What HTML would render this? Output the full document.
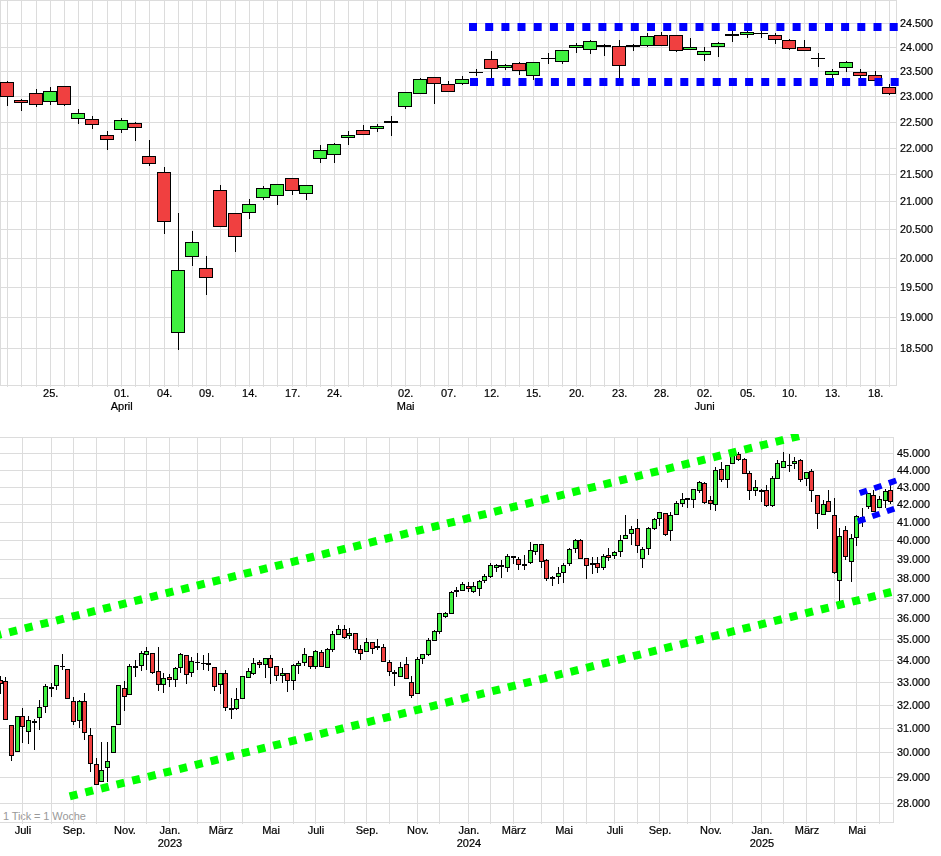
<!DOCTYPE html>
<html><head><meta charset="utf-8"><title>Chart</title>
<style>html,body{margin:0;padding:0;background:#fff;}body{width:941px;height:856px;position:relative;overflow:hidden;font-family:"Liberation Sans",sans-serif;}svg{display:block;will-change:transform;transform:translateZ(0)}</style></head>
<body>
<div style="position:absolute;left:3px;top:809px;font-size:11px;line-height:14px;color:#999;white-space:nowrap;letter-spacing:-0.1px">1 Tick = 1 Woche</div>
<svg width="941" height="856" viewBox="0 0 941 856" style="position:absolute;left:0;top:0">
<defs><clipPath id="c1"><rect x="0" y="0" width="899" height="386"/></clipPath><clipPath id="c2"><rect x="0" y="434" width="898" height="400"/></clipPath></defs>
<g fill="#DCDCDC">
<rect x="0" y="0" width="897" height="1"/>
<rect x="0" y="23" width="897" height="1"/>
<rect x="0" y="47" width="897" height="1"/>
<rect x="0" y="71" width="897" height="1"/>
<rect x="0" y="96" width="897" height="1"/>
<rect x="0" y="122" width="897" height="1"/>
<rect x="0" y="148" width="897" height="1"/>
<rect x="0" y="174" width="897" height="1"/>
<rect x="0" y="201" width="897" height="1"/>
<rect x="0" y="229" width="897" height="1"/>
<rect x="0" y="258" width="897" height="1"/>
<rect x="0" y="287" width="897" height="1"/>
<rect x="0" y="317" width="897" height="1"/>
<rect x="0" y="348" width="897" height="1"/>
<rect x="0" y="385" width="897" height="1"/>
<rect x="0" y="0" width="1" height="386"/>
<rect x="896" y="0" width="1" height="386"/>
<rect x="7" y="0" width="1" height="387"/>
<rect x="21" y="0" width="1" height="387"/>
<rect x="36" y="0" width="1" height="387"/>
<rect x="50" y="0" width="1" height="387"/>
<rect x="64" y="0" width="1" height="387"/>
<rect x="78" y="0" width="1" height="387"/>
<rect x="92" y="0" width="1" height="387"/>
<rect x="107" y="0" width="1" height="387"/>
<rect x="121" y="0" width="1" height="387"/>
<rect x="135" y="0" width="1" height="387"/>
<rect x="149" y="0" width="1" height="387"/>
<rect x="164" y="0" width="1" height="387"/>
<rect x="178" y="0" width="1" height="387"/>
<rect x="192" y="0" width="1" height="387"/>
<rect x="206" y="0" width="1" height="387"/>
<rect x="220" y="0" width="1" height="387"/>
<rect x="235" y="0" width="1" height="387"/>
<rect x="249" y="0" width="1" height="387"/>
<rect x="263" y="0" width="1" height="387"/>
<rect x="277" y="0" width="1" height="387"/>
<rect x="292" y="0" width="1" height="387"/>
<rect x="306" y="0" width="1" height="387"/>
<rect x="320" y="0" width="1" height="387"/>
<rect x="334" y="0" width="1" height="387"/>
<rect x="348" y="0" width="1" height="387"/>
<rect x="363" y="0" width="1" height="387"/>
<rect x="377" y="0" width="1" height="387"/>
<rect x="391" y="0" width="1" height="387"/>
<rect x="405" y="0" width="1" height="387"/>
<rect x="420" y="0" width="1" height="387"/>
<rect x="434" y="0" width="1" height="387"/>
<rect x="448" y="0" width="1" height="387"/>
<rect x="462" y="0" width="1" height="387"/>
<rect x="476" y="0" width="1" height="387"/>
<rect x="491" y="0" width="1" height="387"/>
<rect x="505" y="0" width="1" height="387"/>
<rect x="519" y="0" width="1" height="387"/>
<rect x="533" y="0" width="1" height="387"/>
<rect x="548" y="0" width="1" height="387"/>
<rect x="562" y="0" width="1" height="387"/>
<rect x="576" y="0" width="1" height="387"/>
<rect x="590" y="0" width="1" height="387"/>
<rect x="604" y="0" width="1" height="387"/>
<rect x="619" y="0" width="1" height="387"/>
<rect x="633" y="0" width="1" height="387"/>
<rect x="647" y="0" width="1" height="387"/>
<rect x="661" y="0" width="1" height="387"/>
<rect x="676" y="0" width="1" height="387"/>
<rect x="690" y="0" width="1" height="387"/>
<rect x="704" y="0" width="1" height="387"/>
<rect x="718" y="0" width="1" height="387"/>
<rect x="732" y="0" width="1" height="387"/>
<rect x="747" y="0" width="1" height="387"/>
<rect x="761" y="0" width="1" height="387"/>
<rect x="775" y="0" width="1" height="387"/>
<rect x="789" y="0" width="1" height="387"/>
<rect x="804" y="0" width="1" height="387"/>
<rect x="818" y="0" width="1" height="387"/>
<rect x="832" y="0" width="1" height="387"/>
<rect x="846" y="0" width="1" height="387"/>
<rect x="860" y="0" width="1" height="387"/>
<rect x="875" y="0" width="1" height="387"/>
<rect x="889" y="0" width="1" height="387"/>
</g>
<g>
<rect x="7.0" y="81" width="1" height="25" fill="#000"/><rect x="0.0" y="82" width="14.0" height="15" fill="#000"/><rect x="1.0" y="83" width="12.0" height="13" fill="#F04040"/>
<rect x="21.0" y="99" width="1" height="12" fill="#000"/><rect x="14.0" y="100" width="14.0" height="3" fill="#000"/><rect x="15.0" y="101" width="12.0" height="1" fill="#F04040"/>
<rect x="36.0" y="89" width="1" height="18" fill="#000"/><rect x="29.0" y="93" width="14.0" height="12" fill="#000"/><rect x="30.0" y="94" width="12.0" height="10" fill="#F04040"/>
<rect x="50.0" y="87" width="1" height="18" fill="#000"/><rect x="43.0" y="91" width="14.0" height="11" fill="#000"/><rect x="44.0" y="92" width="12.0" height="9" fill="#40F040"/>
<rect x="64.0" y="86" width="1" height="20" fill="#000"/><rect x="57.0" y="86" width="14.0" height="19" fill="#000"/><rect x="58.0" y="87" width="12.0" height="17" fill="#F04040"/>
<rect x="78.0" y="109" width="1" height="15" fill="#000"/><rect x="71.0" y="113" width="14.0" height="6" fill="#000"/><rect x="72.0" y="114" width="12.0" height="4" fill="#40F040"/>
<rect x="92.0" y="116" width="1" height="13" fill="#000"/><rect x="85.0" y="119" width="14.0" height="6" fill="#000"/><rect x="86.0" y="120" width="12.0" height="4" fill="#F04040"/>
<rect x="107.0" y="131" width="1" height="19" fill="#000"/><rect x="100.0" y="135" width="14.0" height="5" fill="#000"/><rect x="101.0" y="136" width="12.0" height="3" fill="#F04040"/>
<rect x="121.0" y="118" width="1" height="15" fill="#000"/><rect x="114.0" y="120" width="14.0" height="10" fill="#000"/><rect x="115.0" y="121" width="12.0" height="8" fill="#40F040"/>
<rect x="135.0" y="122" width="1" height="19" fill="#000"/><rect x="128.0" y="123" width="14.0" height="5" fill="#000"/><rect x="129.0" y="124" width="12.0" height="3" fill="#F04040"/>
<rect x="149.0" y="140" width="1" height="26" fill="#000"/><rect x="142.0" y="156" width="14.0" height="8" fill="#000"/><rect x="143.0" y="157" width="12.0" height="6" fill="#F04040"/>
<rect x="164.0" y="167" width="1" height="67" fill="#000"/><rect x="157.0" y="172" width="14.0" height="50" fill="#000"/><rect x="158.0" y="173" width="12.0" height="48" fill="#F04040"/>
<rect x="178.0" y="213" width="1" height="137" fill="#000"/><rect x="171.0" y="270" width="14.0" height="63" fill="#000"/><rect x="172.0" y="271" width="12.0" height="61" fill="#40F040"/>
<rect x="192.0" y="231" width="1" height="35" fill="#000"/><rect x="185.0" y="242" width="14.0" height="15" fill="#000"/><rect x="186.0" y="243" width="12.0" height="13" fill="#40F040"/>
<rect x="206.0" y="256" width="1" height="39" fill="#000"/><rect x="199.0" y="268" width="14.0" height="10" fill="#000"/><rect x="200.0" y="269" width="12.0" height="8" fill="#F04040"/>
<rect x="220.0" y="185" width="1" height="42" fill="#000"/><rect x="213.0" y="190" width="14.0" height="37" fill="#000"/><rect x="214.0" y="191" width="12.0" height="35" fill="#F04040"/>
<rect x="235.0" y="213" width="1" height="39" fill="#000"/><rect x="228.0" y="213" width="14.0" height="24" fill="#000"/><rect x="229.0" y="214" width="12.0" height="22" fill="#F04040"/>
<rect x="249.0" y="199" width="1" height="20" fill="#000"/><rect x="242.0" y="204" width="14.0" height="9" fill="#000"/><rect x="243.0" y="205" width="12.0" height="7" fill="#40F040"/>
<rect x="263.0" y="186" width="1" height="14" fill="#000"/><rect x="256.0" y="188" width="14.0" height="10" fill="#000"/><rect x="257.0" y="189" width="12.0" height="8" fill="#40F040"/>
<rect x="277.0" y="184" width="1" height="21" fill="#000"/><rect x="270.0" y="184" width="14.0" height="12" fill="#000"/><rect x="271.0" y="185" width="12.0" height="10" fill="#40F040"/>
<rect x="292.0" y="178" width="1" height="17" fill="#000"/><rect x="285.0" y="178" width="14.0" height="13" fill="#000"/><rect x="286.0" y="179" width="12.0" height="11" fill="#F04040"/>
<rect x="306.0" y="185" width="1" height="15" fill="#000"/><rect x="299.0" y="185" width="14.0" height="9" fill="#000"/><rect x="300.0" y="186" width="12.0" height="7" fill="#40F040"/>
<rect x="320.0" y="145" width="1" height="18" fill="#000"/><rect x="313.0" y="150" width="14.0" height="9" fill="#000"/><rect x="314.0" y="151" width="12.0" height="7" fill="#40F040"/>
<rect x="334.0" y="143" width="1" height="20" fill="#000"/><rect x="327.0" y="144" width="14.0" height="11" fill="#000"/><rect x="328.0" y="145" width="12.0" height="9" fill="#40F040"/>
<rect x="348.0" y="131" width="1" height="14" fill="#000"/><rect x="341.0" y="135" width="14.0" height="3" fill="#000"/><rect x="342.0" y="136" width="12.0" height="1" fill="#40F040"/>
<rect x="363.0" y="125" width="1" height="10" fill="#000"/><rect x="356.0" y="130" width="14.0" height="5" fill="#000"/><rect x="357.0" y="131" width="12.0" height="3" fill="#F04040"/>
<rect x="377.0" y="124" width="1" height="8" fill="#000"/><rect x="370.0" y="126" width="14.0" height="3" fill="#000"/><rect x="371.0" y="127" width="12.0" height="1" fill="#40F040"/>
<rect x="391.0" y="116" width="1" height="20" fill="#000"/><rect x="384.0" y="121" width="14.0" height="2" fill="#000"/>
<rect x="405.0" y="92" width="1" height="17" fill="#000"/><rect x="398.0" y="92" width="14.0" height="15" fill="#000"/><rect x="399.0" y="93" width="12.0" height="13" fill="#40F040"/>
<rect x="420.0" y="78" width="1" height="16" fill="#000"/><rect x="413.0" y="79" width="14.0" height="15" fill="#000"/><rect x="414.0" y="80" width="12.0" height="13" fill="#40F040"/>
<rect x="434.0" y="77" width="1" height="27" fill="#000"/><rect x="427.0" y="77" width="14.0" height="7" fill="#000"/><rect x="428.0" y="78" width="12.0" height="5" fill="#F04040"/>
<rect x="448.0" y="81" width="1" height="11" fill="#000"/><rect x="441.0" y="84" width="14.0" height="8" fill="#000"/><rect x="442.0" y="85" width="12.0" height="6" fill="#F04040"/>
<rect x="462.0" y="76" width="1" height="9" fill="#000"/><rect x="455.0" y="79" width="14.0" height="5" fill="#000"/><rect x="456.0" y="80" width="12.0" height="3" fill="#40F040"/>
<rect x="476.0" y="69" width="1" height="7" fill="#000"/><rect x="469.0" y="72" width="14.0" height="1" fill="#000"/>
<rect x="491.0" y="51" width="1" height="27" fill="#000"/><rect x="484.0" y="59" width="14.0" height="10" fill="#000"/><rect x="485.0" y="60" width="12.0" height="8" fill="#F04040"/>
<rect x="505.0" y="64" width="1" height="6" fill="#000"/><rect x="498.0" y="65" width="14.0" height="3" fill="#000"/><rect x="499.0" y="66" width="12.0" height="1" fill="#40F040"/>
<rect x="519.0" y="62" width="1" height="13" fill="#000"/><rect x="512.0" y="63" width="14.0" height="8" fill="#000"/><rect x="513.0" y="64" width="12.0" height="6" fill="#F04040"/>
<rect x="533.0" y="62" width="1" height="18" fill="#000"/><rect x="526.0" y="62" width="14.0" height="14" fill="#000"/><rect x="527.0" y="63" width="12.0" height="12" fill="#40F040"/>
<rect x="548.0" y="53" width="1" height="11" fill="#000"/><rect x="541.0" y="58" width="14.0" height="1" fill="#000"/>
<rect x="562.0" y="50" width="1" height="14" fill="#000"/><rect x="555.0" y="50" width="14.0" height="12" fill="#000"/><rect x="556.0" y="51" width="12.0" height="10" fill="#40F040"/>
<rect x="576.0" y="43" width="1" height="10" fill="#000"/><rect x="569.0" y="45" width="14.0" height="3" fill="#000"/><rect x="570.0" y="46" width="12.0" height="1" fill="#40F040"/>
<rect x="590.0" y="40" width="1" height="14" fill="#000"/><rect x="583.0" y="41" width="14.0" height="9" fill="#000"/><rect x="584.0" y="42" width="12.0" height="7" fill="#40F040"/>
<rect x="604.0" y="44" width="1" height="12" fill="#000"/><rect x="597.0" y="45" width="14.0" height="2" fill="#000"/>
<rect x="619.0" y="40" width="1" height="38" fill="#000"/><rect x="612.0" y="46" width="14.0" height="20" fill="#000"/><rect x="613.0" y="47" width="12.0" height="18" fill="#F04040"/>
<rect x="633.0" y="44" width="1" height="7" fill="#000"/><rect x="626.0" y="45" width="14.0" height="2" fill="#000"/>
<rect x="647.0" y="33" width="1" height="14" fill="#000"/><rect x="640.0" y="36" width="14.0" height="10" fill="#000"/><rect x="641.0" y="37" width="12.0" height="8" fill="#40F040"/>
<rect x="661.0" y="32" width="1" height="14" fill="#000"/><rect x="654.0" y="35" width="14.0" height="11" fill="#000"/><rect x="655.0" y="36" width="12.0" height="9" fill="#F04040"/>
<rect x="676.0" y="35" width="1" height="17" fill="#000"/><rect x="669.0" y="35" width="14.0" height="16" fill="#000"/><rect x="670.0" y="36" width="12.0" height="14" fill="#F04040"/>
<rect x="690.0" y="38" width="1" height="12" fill="#000"/><rect x="683.0" y="47" width="14.0" height="3" fill="#000"/><rect x="684.0" y="48" width="12.0" height="1" fill="#40F040"/>
<rect x="704.0" y="47" width="1" height="14" fill="#000"/><rect x="697.0" y="51" width="14.0" height="4" fill="#000"/><rect x="698.0" y="52" width="12.0" height="2" fill="#40F040"/>
<rect x="718.0" y="42" width="1" height="15" fill="#000"/><rect x="711.0" y="43" width="14.0" height="4" fill="#000"/><rect x="712.0" y="44" width="12.0" height="2" fill="#40F040"/>
<rect x="732.0" y="31" width="1" height="11" fill="#000"/><rect x="725.0" y="34" width="14.0" height="2" fill="#000"/>
<rect x="747.0" y="31" width="1" height="7" fill="#000"/><rect x="740.0" y="32" width="14.0" height="3" fill="#000"/><rect x="741.0" y="33" width="12.0" height="1" fill="#40F040"/>
<rect x="761.0" y="31" width="1" height="7" fill="#000"/><rect x="754.0" y="33" width="14.0" height="1" fill="#000"/>
<rect x="775.0" y="33" width="1" height="11" fill="#000"/><rect x="768.0" y="35" width="14.0" height="5" fill="#000"/><rect x="769.0" y="36" width="12.0" height="3" fill="#F04040"/>
<rect x="789.0" y="39" width="1" height="11" fill="#000"/><rect x="782.0" y="40" width="14.0" height="9" fill="#000"/><rect x="783.0" y="41" width="12.0" height="7" fill="#F04040"/>
<rect x="804.0" y="40" width="1" height="11" fill="#000"/><rect x="797.0" y="47" width="14.0" height="4" fill="#000"/><rect x="798.0" y="48" width="12.0" height="2" fill="#F04040"/>
<rect x="818.0" y="53" width="1" height="14" fill="#000"/><rect x="811.0" y="58" width="14.0" height="1" fill="#000"/>
<rect x="832.0" y="69" width="1" height="9" fill="#000"/><rect x="825.0" y="71" width="14.0" height="4" fill="#000"/><rect x="826.0" y="72" width="12.0" height="2" fill="#40F040"/>
<rect x="846.0" y="61" width="1" height="11" fill="#000"/><rect x="839.0" y="62" width="14.0" height="6" fill="#000"/><rect x="840.0" y="63" width="12.0" height="4" fill="#40F040"/>
<rect x="860.0" y="69" width="1" height="9" fill="#000"/><rect x="853.0" y="72" width="14.0" height="4" fill="#000"/><rect x="854.0" y="73" width="12.0" height="2" fill="#F04040"/>
<rect x="875.0" y="71" width="1" height="10" fill="#000"/><rect x="868.0" y="75" width="14.0" height="6" fill="#000"/><rect x="869.0" y="76" width="12.0" height="4" fill="#F04040"/>
<rect x="889.0" y="84" width="1" height="11" fill="#000"/><rect x="882.0" y="87" width="14.0" height="7" fill="#000"/><rect x="883.0" y="88" width="12.0" height="5" fill="#F04040"/>
</g>
<g fill="#0000FF" clip-path="url(#c1)">
<rect x="469.0" y="23" width="8" height="8"/>
<rect x="470.0" y="78" width="8" height="8"/>
<rect x="485.2" y="23" width="8" height="8"/>
<rect x="486.2" y="78" width="8" height="8"/>
<rect x="501.4" y="23" width="8" height="8"/>
<rect x="502.4" y="78" width="8" height="8"/>
<rect x="517.5" y="23" width="8" height="8"/>
<rect x="518.5" y="78" width="8" height="8"/>
<rect x="533.7" y="23" width="8" height="8"/>
<rect x="534.7" y="78" width="8" height="8"/>
<rect x="549.9" y="23" width="8" height="8"/>
<rect x="550.9" y="78" width="8" height="8"/>
<rect x="566.1" y="23" width="8" height="8"/>
<rect x="567.1" y="78" width="8" height="8"/>
<rect x="582.3" y="23" width="8" height="8"/>
<rect x="583.3" y="78" width="8" height="8"/>
<rect x="598.4" y="23" width="8" height="8"/>
<rect x="599.4" y="78" width="8" height="8"/>
<rect x="614.6" y="23" width="8" height="8"/>
<rect x="615.6" y="78" width="8" height="8"/>
<rect x="630.8" y="23" width="8" height="8"/>
<rect x="631.8" y="78" width="8" height="8"/>
<rect x="647.0" y="23" width="8" height="8"/>
<rect x="648.0" y="78" width="8" height="8"/>
<rect x="663.2" y="23" width="8" height="8"/>
<rect x="664.2" y="78" width="8" height="8"/>
<rect x="679.3" y="23" width="8" height="8"/>
<rect x="680.3" y="78" width="8" height="8"/>
<rect x="695.5" y="23" width="8" height="8"/>
<rect x="696.5" y="78" width="8" height="8"/>
<rect x="711.7" y="23" width="8" height="8"/>
<rect x="712.7" y="78" width="8" height="8"/>
<rect x="727.9" y="23" width="8" height="8"/>
<rect x="728.9" y="78" width="8" height="8"/>
<rect x="744.1" y="23" width="8" height="8"/>
<rect x="745.1" y="78" width="8" height="8"/>
<rect x="760.2" y="23" width="8" height="8"/>
<rect x="761.2" y="78" width="8" height="8"/>
<rect x="776.4" y="23" width="8" height="8"/>
<rect x="777.4" y="78" width="8" height="8"/>
<rect x="792.6" y="23" width="8" height="8"/>
<rect x="793.6" y="78" width="8" height="8"/>
<rect x="808.8" y="23" width="8" height="8"/>
<rect x="809.8" y="78" width="8" height="8"/>
<rect x="825.0" y="23" width="8" height="8"/>
<rect x="826.0" y="78" width="8" height="8"/>
<rect x="841.1" y="23" width="8" height="8"/>
<rect x="842.1" y="78" width="8" height="8"/>
<rect x="857.3" y="23" width="8" height="8"/>
<rect x="858.3" y="78" width="8" height="8"/>
<rect x="873.5" y="23" width="8" height="8"/>
<rect x="874.5" y="78" width="8" height="8"/>
<rect x="889.7" y="23" width="8" height="8"/>
<rect x="890.7" y="78" width="8" height="8"/>
</g>
<g fill="#DCDCDC">
<rect x="0" y="803" width="894" height="1"/>
<rect x="0" y="777" width="894" height="1"/>
<rect x="0" y="752" width="894" height="1"/>
<rect x="0" y="728" width="894" height="1"/>
<rect x="0" y="705" width="894" height="1"/>
<rect x="0" y="682" width="894" height="1"/>
<rect x="0" y="660" width="894" height="1"/>
<rect x="0" y="639" width="894" height="1"/>
<rect x="0" y="618" width="894" height="1"/>
<rect x="0" y="598" width="894" height="1"/>
<rect x="0" y="578" width="894" height="1"/>
<rect x="0" y="559" width="894" height="1"/>
<rect x="0" y="540" width="894" height="1"/>
<rect x="0" y="522" width="894" height="1"/>
<rect x="0" y="504" width="894" height="1"/>
<rect x="0" y="487" width="894" height="1"/>
<rect x="0" y="470" width="894" height="1"/>
<rect x="0" y="453" width="894" height="1"/>
<rect x="0" y="437" width="894" height="1"/>
<rect x="0" y="822" width="894" height="1"/>
<rect x="893" y="437" width="1" height="386"/>
<rect x="22" y="437" width="1" height="387"/>
<rect x="51" y="437" width="1" height="387"/>
<rect x="73" y="437" width="1" height="387"/>
<rect x="96" y="437" width="1" height="387"/>
<rect x="124" y="437" width="1" height="387"/>
<rect x="146" y="437" width="1" height="387"/>
<rect x="169" y="437" width="1" height="387"/>
<rect x="197" y="437" width="1" height="387"/>
<rect x="220" y="437" width="1" height="387"/>
<rect x="242" y="437" width="1" height="387"/>
<rect x="270" y="437" width="1" height="387"/>
<rect x="293" y="437" width="1" height="387"/>
<rect x="315" y="437" width="1" height="387"/>
<rect x="344" y="437" width="1" height="387"/>
<rect x="366" y="437" width="1" height="387"/>
<rect x="389" y="437" width="1" height="387"/>
<rect x="417" y="437" width="1" height="387"/>
<rect x="439" y="437" width="1" height="387"/>
<rect x="468" y="437" width="1" height="387"/>
<rect x="490" y="437" width="1" height="387"/>
<rect x="513" y="437" width="1" height="387"/>
<rect x="541" y="437" width="1" height="387"/>
<rect x="563" y="437" width="1" height="387"/>
<rect x="586" y="437" width="1" height="387"/>
<rect x="614" y="437" width="1" height="387"/>
<rect x="637" y="437" width="1" height="387"/>
<rect x="659" y="437" width="1" height="387"/>
<rect x="687" y="437" width="1" height="387"/>
<rect x="710" y="437" width="1" height="387"/>
<rect x="732" y="437" width="1" height="387"/>
<rect x="761" y="437" width="1" height="387"/>
<rect x="783" y="437" width="1" height="387"/>
<rect x="806" y="437" width="1" height="387"/>
<rect x="834" y="437" width="1" height="387"/>
<rect x="856" y="437" width="1" height="387"/>
<rect x="879" y="437" width="1" height="387"/>
</g>
<g>
<rect x="0.0" y="676" width="1" height="18" fill="#000"/><rect x="-2.0" y="680" width="5.0" height="4" fill="#000"/><rect x="-1.0" y="681" width="3.0" height="2" fill="#F04040"/>
<rect x="5.0" y="677" width="1" height="43" fill="#000"/><rect x="3.0" y="681" width="5.0" height="39" fill="#000"/><rect x="4.0" y="682" width="3.0" height="37" fill="#F04040"/>
<rect x="11.0" y="725" width="1" height="36" fill="#000"/><rect x="9.0" y="725" width="5.0" height="31" fill="#000"/><rect x="10.0" y="726" width="3.0" height="29" fill="#F04040"/>
<rect x="17.0" y="716" width="1" height="36" fill="#000"/><rect x="15.0" y="716" width="5.0" height="36" fill="#000"/><rect x="16.0" y="717" width="3.0" height="34" fill="#40F040"/>
<rect x="22.0" y="708" width="1" height="35" fill="#000"/><rect x="20.0" y="716" width="5.0" height="11" fill="#000"/><rect x="21.0" y="717" width="3.0" height="9" fill="#F04040"/>
<rect x="28.0" y="716" width="1" height="28" fill="#000"/><rect x="26.0" y="720" width="5.0" height="12" fill="#000"/><rect x="27.0" y="721" width="3.0" height="10" fill="#40F040"/>
<rect x="34.0" y="719" width="1" height="31" fill="#000"/><rect x="32.0" y="721" width="5.0" height="2" fill="#000"/>
<rect x="39.0" y="700" width="1" height="30" fill="#000"/><rect x="37.0" y="707" width="5.0" height="11" fill="#000"/><rect x="38.0" y="708" width="3.0" height="9" fill="#40F040"/>
<rect x="45.0" y="684" width="1" height="29" fill="#000"/><rect x="43.0" y="686" width="5.0" height="21" fill="#000"/><rect x="44.0" y="687" width="3.0" height="19" fill="#40F040"/>
<rect x="51.0" y="683" width="1" height="14" fill="#000"/><rect x="49.0" y="687" width="5.0" height="2" fill="#000"/>
<rect x="56.0" y="665" width="1" height="25" fill="#000"/><rect x="54.0" y="665" width="5.0" height="21" fill="#000"/><rect x="55.0" y="666" width="3.0" height="19" fill="#40F040"/>
<rect x="62.0" y="654" width="1" height="16" fill="#000"/><rect x="60.0" y="666" width="5.0" height="1" fill="#000"/>
<rect x="67.0" y="669" width="1" height="30" fill="#000"/><rect x="65.0" y="669" width="5.0" height="30" fill="#000"/><rect x="66.0" y="670" width="3.0" height="28" fill="#F04040"/>
<rect x="73.0" y="697" width="1" height="28" fill="#000"/><rect x="71.0" y="701" width="5.0" height="21" fill="#000"/><rect x="72.0" y="702" width="3.0" height="19" fill="#F04040"/>
<rect x="79.0" y="700" width="1" height="28" fill="#000"/><rect x="77.0" y="701" width="5.0" height="20" fill="#000"/><rect x="78.0" y="702" width="3.0" height="18" fill="#40F040"/>
<rect x="84.0" y="693" width="1" height="47" fill="#000"/><rect x="82.0" y="701" width="5.0" height="32" fill="#000"/><rect x="83.0" y="702" width="3.0" height="30" fill="#F04040"/>
<rect x="90.0" y="728" width="1" height="44" fill="#000"/><rect x="88.0" y="735" width="5.0" height="29" fill="#000"/><rect x="89.0" y="736" width="3.0" height="27" fill="#F04040"/>
<rect x="96.0" y="758" width="1" height="27" fill="#000"/><rect x="94.0" y="764" width="5.0" height="21" fill="#000"/><rect x="95.0" y="765" width="3.0" height="19" fill="#F04040"/>
<rect x="101.0" y="742" width="1" height="40" fill="#000"/><rect x="99.0" y="770" width="5.0" height="12" fill="#000"/><rect x="100.0" y="771" width="3.0" height="10" fill="#40F040"/>
<rect x="107.0" y="742" width="1" height="40" fill="#000"/><rect x="105.0" y="761" width="5.0" height="7" fill="#000"/><rect x="106.0" y="762" width="3.0" height="5" fill="#40F040"/>
<rect x="113.0" y="726" width="1" height="27" fill="#000"/><rect x="111.0" y="726" width="5.0" height="27" fill="#000"/><rect x="112.0" y="727" width="3.0" height="25" fill="#40F040"/>
<rect x="118.0" y="685" width="1" height="40" fill="#000"/><rect x="116.0" y="685" width="5.0" height="40" fill="#000"/><rect x="117.0" y="686" width="3.0" height="38" fill="#40F040"/>
<rect x="124.0" y="681" width="1" height="30" fill="#000"/><rect x="122.0" y="688" width="5.0" height="9" fill="#000"/><rect x="123.0" y="689" width="3.0" height="7" fill="#F04040"/>
<rect x="129.0" y="664" width="1" height="31" fill="#000"/><rect x="127.0" y="666" width="5.0" height="29" fill="#000"/><rect x="128.0" y="667" width="3.0" height="27" fill="#40F040"/>
<rect x="135.0" y="660" width="1" height="17" fill="#000"/><rect x="133.0" y="666" width="5.0" height="2" fill="#000"/>
<rect x="141.0" y="651" width="1" height="20" fill="#000"/><rect x="139.0" y="653" width="5.0" height="13" fill="#000"/><rect x="140.0" y="654" width="3.0" height="11" fill="#40F040"/>
<rect x="146.0" y="647" width="1" height="23" fill="#000"/><rect x="144.0" y="651" width="5.0" height="4" fill="#000"/><rect x="145.0" y="652" width="3.0" height="2" fill="#40F040"/>
<rect x="152.0" y="653" width="1" height="21" fill="#000"/><rect x="150.0" y="653" width="5.0" height="20" fill="#000"/><rect x="151.0" y="654" width="3.0" height="18" fill="#F04040"/>
<rect x="158.0" y="647" width="1" height="44" fill="#000"/><rect x="156.0" y="671" width="5.0" height="14" fill="#000"/><rect x="157.0" y="672" width="3.0" height="12" fill="#F04040"/>
<rect x="163.0" y="673" width="1" height="20" fill="#000"/><rect x="161.0" y="678" width="5.0" height="7" fill="#000"/><rect x="162.0" y="679" width="3.0" height="5" fill="#40F040"/>
<rect x="169.0" y="674" width="1" height="13" fill="#000"/><rect x="167.0" y="677" width="5.0" height="3" fill="#000"/><rect x="168.0" y="678" width="3.0" height="1" fill="#F04040"/>
<rect x="175.0" y="667" width="1" height="20" fill="#000"/><rect x="173.0" y="668" width="5.0" height="12" fill="#000"/><rect x="174.0" y="669" width="3.0" height="10" fill="#40F040"/>
<rect x="180.0" y="653" width="1" height="20" fill="#000"/><rect x="178.0" y="654" width="5.0" height="14" fill="#000"/><rect x="179.0" y="655" width="3.0" height="12" fill="#40F040"/>
<rect x="186.0" y="655" width="1" height="29" fill="#000"/><rect x="184.0" y="655" width="5.0" height="20" fill="#000"/><rect x="185.0" y="656" width="3.0" height="18" fill="#F04040"/>
<rect x="191.0" y="657" width="1" height="20" fill="#000"/><rect x="189.0" y="661" width="5.0" height="12" fill="#000"/><rect x="190.0" y="662" width="3.0" height="10" fill="#40F040"/>
<rect x="197.0" y="653" width="1" height="17" fill="#000"/><rect x="195.0" y="662" width="5.0" height="1" fill="#000"/>
<rect x="203.0" y="655" width="1" height="15" fill="#000"/><rect x="201.0" y="663" width="5.0" height="1" fill="#000"/>
<rect x="208.0" y="653" width="1" height="18" fill="#000"/><rect x="206.0" y="663" width="5.0" height="2" fill="#000"/>
<rect x="214.0" y="667" width="1" height="24" fill="#000"/><rect x="212.0" y="667" width="5.0" height="20" fill="#000"/><rect x="213.0" y="668" width="3.0" height="18" fill="#F04040"/>
<rect x="220.0" y="673" width="1" height="21" fill="#000"/><rect x="218.0" y="673" width="5.0" height="12" fill="#000"/><rect x="219.0" y="674" width="3.0" height="10" fill="#40F040"/>
<rect x="225.0" y="670" width="1" height="41" fill="#000"/><rect x="223.0" y="673" width="5.0" height="35" fill="#000"/><rect x="224.0" y="674" width="3.0" height="33" fill="#F04040"/>
<rect x="231.0" y="698" width="1" height="21" fill="#000"/><rect x="229.0" y="708" width="5.0" height="2" fill="#000"/>
<rect x="236.0" y="688" width="1" height="22" fill="#000"/><rect x="234.0" y="699" width="5.0" height="10" fill="#000"/><rect x="235.0" y="700" width="3.0" height="8" fill="#40F040"/>
<rect x="242.0" y="676" width="1" height="23" fill="#000"/><rect x="240.0" y="676" width="5.0" height="23" fill="#000"/><rect x="241.0" y="677" width="3.0" height="21" fill="#40F040"/>
<rect x="248.0" y="668" width="1" height="10" fill="#000"/><rect x="246.0" y="671" width="5.0" height="7" fill="#000"/><rect x="247.0" y="672" width="3.0" height="5" fill="#40F040"/>
<rect x="253.0" y="658" width="1" height="17" fill="#000"/><rect x="251.0" y="663" width="5.0" height="11" fill="#000"/><rect x="252.0" y="664" width="3.0" height="9" fill="#40F040"/>
<rect x="259.0" y="660" width="1" height="8" fill="#000"/><rect x="257.0" y="662" width="5.0" height="3" fill="#000"/><rect x="258.0" y="663" width="3.0" height="1" fill="#F04040"/>
<rect x="265.0" y="658" width="1" height="20" fill="#000"/><rect x="263.0" y="658" width="5.0" height="7" fill="#000"/><rect x="264.0" y="659" width="3.0" height="5" fill="#40F040"/>
<rect x="270.0" y="655" width="1" height="29" fill="#000"/><rect x="268.0" y="658" width="5.0" height="10" fill="#000"/><rect x="269.0" y="659" width="3.0" height="8" fill="#F04040"/>
<rect x="276.0" y="666" width="1" height="15" fill="#000"/><rect x="274.0" y="666" width="5.0" height="10" fill="#000"/><rect x="275.0" y="667" width="3.0" height="8" fill="#F04040"/>
<rect x="282.0" y="668" width="1" height="15" fill="#000"/><rect x="280.0" y="673" width="5.0" height="3" fill="#000"/><rect x="281.0" y="674" width="3.0" height="1" fill="#40F040"/>
<rect x="287.0" y="673" width="1" height="19" fill="#000"/><rect x="285.0" y="673" width="5.0" height="8" fill="#000"/><rect x="286.0" y="674" width="3.0" height="6" fill="#F04040"/>
<rect x="293.0" y="664" width="1" height="26" fill="#000"/><rect x="291.0" y="665" width="5.0" height="16" fill="#000"/><rect x="292.0" y="666" width="3.0" height="14" fill="#40F040"/>
<rect x="298.0" y="661" width="1" height="13" fill="#000"/><rect x="296.0" y="663" width="5.0" height="3" fill="#000"/><rect x="297.0" y="664" width="3.0" height="1" fill="#40F040"/>
<rect x="304.0" y="648" width="1" height="18" fill="#000"/><rect x="302.0" y="654" width="5.0" height="9" fill="#000"/><rect x="303.0" y="655" width="3.0" height="7" fill="#40F040"/>
<rect x="310.0" y="656" width="1" height="13" fill="#000"/><rect x="308.0" y="656" width="5.0" height="11" fill="#000"/><rect x="309.0" y="657" width="3.0" height="9" fill="#F04040"/>
<rect x="315.0" y="650" width="1" height="19" fill="#000"/><rect x="313.0" y="651" width="5.0" height="16" fill="#000"/><rect x="314.0" y="652" width="3.0" height="14" fill="#40F040"/>
<rect x="321.0" y="650" width="1" height="17" fill="#000"/><rect x="319.0" y="652" width="5.0" height="15" fill="#000"/><rect x="320.0" y="653" width="3.0" height="13" fill="#F04040"/>
<rect x="327.0" y="648" width="1" height="20" fill="#000"/><rect x="325.0" y="649" width="5.0" height="19" fill="#000"/><rect x="326.0" y="650" width="3.0" height="17" fill="#40F040"/>
<rect x="332.0" y="631" width="1" height="21" fill="#000"/><rect x="330.0" y="634" width="5.0" height="16" fill="#000"/><rect x="331.0" y="635" width="3.0" height="14" fill="#40F040"/>
<rect x="338.0" y="625" width="1" height="10" fill="#000"/><rect x="336.0" y="629" width="5.0" height="6" fill="#000"/><rect x="337.0" y="630" width="3.0" height="4" fill="#40F040"/>
<rect x="344.0" y="625" width="1" height="14" fill="#000"/><rect x="342.0" y="629" width="5.0" height="9" fill="#000"/><rect x="343.0" y="630" width="3.0" height="7" fill="#F04040"/>
<rect x="349.0" y="628" width="1" height="11" fill="#000"/><rect x="347.0" y="633" width="5.0" height="3" fill="#000"/><rect x="348.0" y="634" width="3.0" height="1" fill="#40F040"/>
<rect x="355.0" y="633" width="1" height="20" fill="#000"/><rect x="353.0" y="633" width="5.0" height="17" fill="#000"/><rect x="354.0" y="634" width="3.0" height="15" fill="#F04040"/>
<rect x="360.0" y="645" width="1" height="15" fill="#000"/><rect x="358.0" y="649" width="5.0" height="5" fill="#000"/><rect x="359.0" y="650" width="3.0" height="3" fill="#F04040"/>
<rect x="366.0" y="638" width="1" height="14" fill="#000"/><rect x="364.0" y="642" width="5.0" height="10" fill="#000"/><rect x="365.0" y="643" width="3.0" height="8" fill="#40F040"/>
<rect x="372.0" y="642" width="1" height="12" fill="#000"/><rect x="370.0" y="642" width="5.0" height="7" fill="#000"/><rect x="371.0" y="643" width="3.0" height="5" fill="#F04040"/>
<rect x="377.0" y="639" width="1" height="11" fill="#000"/><rect x="375.0" y="646" width="5.0" height="2" fill="#000"/>
<rect x="383.0" y="644" width="1" height="18" fill="#000"/><rect x="381.0" y="647" width="5.0" height="15" fill="#000"/><rect x="382.0" y="648" width="3.0" height="13" fill="#F04040"/>
<rect x="389.0" y="660" width="1" height="16" fill="#000"/><rect x="387.0" y="662" width="5.0" height="10" fill="#000"/><rect x="388.0" y="663" width="3.0" height="8" fill="#F04040"/>
<rect x="394.0" y="670" width="1" height="16" fill="#000"/><rect x="392.0" y="672" width="5.0" height="2" fill="#000"/>
<rect x="400.0" y="662" width="1" height="15" fill="#000"/><rect x="398.0" y="667" width="5.0" height="10" fill="#000"/><rect x="399.0" y="668" width="3.0" height="8" fill="#40F040"/>
<rect x="406.0" y="657" width="1" height="22" fill="#000"/><rect x="404.0" y="664" width="5.0" height="15" fill="#000"/><rect x="405.0" y="665" width="3.0" height="13" fill="#F04040"/>
<rect x="411.0" y="676" width="1" height="22" fill="#000"/><rect x="409.0" y="682" width="5.0" height="14" fill="#000"/><rect x="410.0" y="683" width="3.0" height="12" fill="#F04040"/>
<rect x="417.0" y="657" width="1" height="37" fill="#000"/><rect x="415.0" y="659" width="5.0" height="35" fill="#000"/><rect x="416.0" y="660" width="3.0" height="33" fill="#40F040"/>
<rect x="422.0" y="654" width="1" height="10" fill="#000"/><rect x="420.0" y="654" width="5.0" height="5" fill="#000"/><rect x="421.0" y="655" width="3.0" height="3" fill="#40F040"/>
<rect x="428.0" y="638" width="1" height="18" fill="#000"/><rect x="426.0" y="640" width="5.0" height="15" fill="#000"/><rect x="427.0" y="641" width="3.0" height="13" fill="#40F040"/>
<rect x="434.0" y="630" width="1" height="11" fill="#000"/><rect x="432.0" y="631" width="5.0" height="10" fill="#000"/><rect x="433.0" y="632" width="3.0" height="8" fill="#40F040"/>
<rect x="439.0" y="613" width="1" height="21" fill="#000"/><rect x="437.0" y="613" width="5.0" height="19" fill="#000"/><rect x="438.0" y="614" width="3.0" height="17" fill="#40F040"/>
<rect x="445.0" y="612" width="1" height="6" fill="#000"/><rect x="443.0" y="613" width="5.0" height="4" fill="#000"/><rect x="444.0" y="614" width="3.0" height="2" fill="#40F040"/>
<rect x="451.0" y="591" width="1" height="23" fill="#000"/><rect x="449.0" y="592" width="5.0" height="22" fill="#000"/><rect x="450.0" y="593" width="3.0" height="20" fill="#40F040"/>
<rect x="456.0" y="587" width="1" height="10" fill="#000"/><rect x="454.0" y="590" width="5.0" height="2" fill="#000"/>
<rect x="462.0" y="582" width="1" height="9" fill="#000"/><rect x="460.0" y="584" width="5.0" height="7" fill="#000"/><rect x="461.0" y="585" width="3.0" height="5" fill="#40F040"/>
<rect x="468.0" y="582" width="1" height="10" fill="#000"/><rect x="466.0" y="586" width="5.0" height="3" fill="#000"/><rect x="467.0" y="587" width="3.0" height="1" fill="#F04040"/>
<rect x="473.0" y="582" width="1" height="11" fill="#000"/><rect x="471.0" y="586" width="5.0" height="6" fill="#000"/><rect x="472.0" y="587" width="3.0" height="4" fill="#40F040"/>
<rect x="479.0" y="580" width="1" height="16" fill="#000"/><rect x="477.0" y="581" width="5.0" height="8" fill="#000"/><rect x="478.0" y="582" width="3.0" height="6" fill="#40F040"/>
<rect x="484.0" y="574" width="1" height="9" fill="#000"/><rect x="482.0" y="576" width="5.0" height="5" fill="#000"/><rect x="483.0" y="577" width="3.0" height="3" fill="#40F040"/>
<rect x="490.0" y="563" width="1" height="15" fill="#000"/><rect x="488.0" y="565" width="5.0" height="12" fill="#000"/><rect x="489.0" y="566" width="3.0" height="10" fill="#40F040"/>
<rect x="496.0" y="564" width="1" height="8" fill="#000"/><rect x="494.0" y="565" width="5.0" height="3" fill="#000"/><rect x="495.0" y="566" width="3.0" height="1" fill="#40F040"/>
<rect x="501.0" y="560" width="1" height="18" fill="#000"/><rect x="499.0" y="565" width="5.0" height="2" fill="#000"/>
<rect x="507.0" y="554" width="1" height="18" fill="#000"/><rect x="505.0" y="556" width="5.0" height="12" fill="#000"/><rect x="506.0" y="557" width="3.0" height="10" fill="#40F040"/>
<rect x="513.0" y="556" width="1" height="8" fill="#000"/><rect x="511.0" y="556" width="5.0" height="2" fill="#000"/>
<rect x="518.0" y="557" width="1" height="13" fill="#000"/><rect x="516.0" y="559" width="5.0" height="6" fill="#000"/><rect x="517.0" y="560" width="3.0" height="4" fill="#F04040"/>
<rect x="524.0" y="555" width="1" height="15" fill="#000"/><rect x="522.0" y="564" width="5.0" height="2" fill="#000"/>
<rect x="530.0" y="542" width="1" height="22" fill="#000"/><rect x="528.0" y="550" width="5.0" height="13" fill="#000"/><rect x="529.0" y="551" width="3.0" height="11" fill="#40F040"/>
<rect x="535.0" y="544" width="1" height="11" fill="#000"/><rect x="533.0" y="544" width="5.0" height="8" fill="#000"/><rect x="534.0" y="545" width="3.0" height="6" fill="#40F040"/>
<rect x="541.0" y="544" width="1" height="24" fill="#000"/><rect x="539.0" y="544" width="5.0" height="18" fill="#000"/><rect x="540.0" y="545" width="3.0" height="16" fill="#F04040"/>
<rect x="546.0" y="559" width="1" height="22" fill="#000"/><rect x="544.0" y="560" width="5.0" height="19" fill="#000"/><rect x="545.0" y="561" width="3.0" height="17" fill="#F04040"/>
<rect x="552.0" y="576" width="1" height="10" fill="#000"/><rect x="550.0" y="577" width="5.0" height="2" fill="#000"/>
<rect x="558.0" y="567" width="1" height="17" fill="#000"/><rect x="556.0" y="573" width="5.0" height="4" fill="#000"/><rect x="557.0" y="574" width="3.0" height="2" fill="#40F040"/>
<rect x="563.0" y="563" width="1" height="20" fill="#000"/><rect x="561.0" y="565" width="5.0" height="8" fill="#000"/><rect x="562.0" y="566" width="3.0" height="6" fill="#40F040"/>
<rect x="569.0" y="548" width="1" height="18" fill="#000"/><rect x="567.0" y="549" width="5.0" height="15" fill="#000"/><rect x="568.0" y="550" width="3.0" height="13" fill="#40F040"/>
<rect x="575.0" y="539" width="1" height="14" fill="#000"/><rect x="573.0" y="540" width="5.0" height="9" fill="#000"/><rect x="574.0" y="541" width="3.0" height="7" fill="#40F040"/>
<rect x="580.0" y="539" width="1" height="20" fill="#000"/><rect x="578.0" y="540" width="5.0" height="19" fill="#000"/><rect x="579.0" y="541" width="3.0" height="17" fill="#F04040"/>
<rect x="586.0" y="558" width="1" height="21" fill="#000"/><rect x="584.0" y="558" width="5.0" height="8" fill="#000"/><rect x="585.0" y="559" width="3.0" height="6" fill="#F04040"/>
<rect x="592.0" y="557" width="1" height="17" fill="#000"/><rect x="590.0" y="563" width="5.0" height="2" fill="#000"/>
<rect x="597.0" y="557" width="1" height="16" fill="#000"/><rect x="595.0" y="563" width="5.0" height="5" fill="#000"/><rect x="596.0" y="564" width="3.0" height="3" fill="#F04040"/>
<rect x="603.0" y="554" width="1" height="16" fill="#000"/><rect x="601.0" y="556" width="5.0" height="12" fill="#000"/><rect x="602.0" y="557" width="3.0" height="10" fill="#40F040"/>
<rect x="608.0" y="548" width="1" height="13" fill="#000"/><rect x="606.0" y="555" width="5.0" height="3" fill="#000"/><rect x="607.0" y="556" width="3.0" height="1" fill="#F04040"/>
<rect x="614.0" y="551" width="1" height="8" fill="#000"/><rect x="612.0" y="552" width="5.0" height="4" fill="#000"/><rect x="613.0" y="553" width="3.0" height="2" fill="#40F040"/>
<rect x="620.0" y="535" width="1" height="22" fill="#000"/><rect x="618.0" y="540" width="5.0" height="12" fill="#000"/><rect x="619.0" y="541" width="3.0" height="10" fill="#40F040"/>
<rect x="625.0" y="515" width="1" height="24" fill="#000"/><rect x="623.0" y="535" width="5.0" height="4" fill="#000"/><rect x="624.0" y="536" width="3.0" height="2" fill="#40F040"/>
<rect x="631.0" y="526" width="1" height="19" fill="#000"/><rect x="629.0" y="529" width="5.0" height="5" fill="#000"/><rect x="630.0" y="530" width="3.0" height="3" fill="#40F040"/>
<rect x="637.0" y="519" width="1" height="34" fill="#000"/><rect x="635.0" y="528" width="5.0" height="18" fill="#000"/><rect x="636.0" y="529" width="3.0" height="16" fill="#F04040"/>
<rect x="642.0" y="547" width="1" height="21" fill="#000"/><rect x="640.0" y="549" width="5.0" height="10" fill="#000"/><rect x="641.0" y="550" width="3.0" height="8" fill="#40F040"/>
<rect x="648.0" y="527" width="1" height="28" fill="#000"/><rect x="646.0" y="528" width="5.0" height="21" fill="#000"/><rect x="647.0" y="529" width="3.0" height="19" fill="#40F040"/>
<rect x="654.0" y="518" width="1" height="12" fill="#000"/><rect x="652.0" y="519" width="5.0" height="10" fill="#000"/><rect x="653.0" y="520" width="3.0" height="8" fill="#40F040"/>
<rect x="659.0" y="512" width="1" height="14" fill="#000"/><rect x="657.0" y="512" width="5.0" height="7" fill="#000"/><rect x="658.0" y="513" width="3.0" height="5" fill="#40F040"/>
<rect x="665.0" y="513" width="1" height="23" fill="#000"/><rect x="663.0" y="513" width="5.0" height="22" fill="#000"/><rect x="664.0" y="514" width="3.0" height="20" fill="#F04040"/>
<rect x="670.0" y="512" width="1" height="29" fill="#000"/><rect x="668.0" y="515" width="5.0" height="16" fill="#000"/><rect x="669.0" y="516" width="3.0" height="14" fill="#40F040"/>
<rect x="676.0" y="501" width="1" height="14" fill="#000"/><rect x="674.0" y="503" width="5.0" height="12" fill="#000"/><rect x="675.0" y="504" width="3.0" height="10" fill="#40F040"/>
<rect x="682.0" y="493" width="1" height="14" fill="#000"/><rect x="680.0" y="499" width="5.0" height="5" fill="#000"/><rect x="681.0" y="500" width="3.0" height="3" fill="#40F040"/>
<rect x="687.0" y="498" width="1" height="10" fill="#000"/><rect x="685.0" y="498" width="5.0" height="2" fill="#000"/>
<rect x="693.0" y="489" width="1" height="19" fill="#000"/><rect x="691.0" y="489" width="5.0" height="11" fill="#000"/><rect x="692.0" y="490" width="3.0" height="9" fill="#40F040"/>
<rect x="699.0" y="481" width="1" height="12" fill="#000"/><rect x="697.0" y="482" width="5.0" height="9" fill="#000"/><rect x="698.0" y="483" width="3.0" height="7" fill="#40F040"/>
<rect x="704.0" y="482" width="1" height="22" fill="#000"/><rect x="702.0" y="483" width="5.0" height="20" fill="#000"/><rect x="703.0" y="484" width="3.0" height="18" fill="#F04040"/>
<rect x="710.0" y="496" width="1" height="14" fill="#000"/><rect x="708.0" y="500" width="5.0" height="4" fill="#000"/><rect x="709.0" y="501" width="3.0" height="2" fill="#F04040"/>
<rect x="715.0" y="467" width="1" height="44" fill="#000"/><rect x="713.0" y="470" width="5.0" height="35" fill="#000"/><rect x="714.0" y="471" width="3.0" height="33" fill="#40F040"/>
<rect x="721.0" y="462" width="1" height="20" fill="#000"/><rect x="719.0" y="469" width="5.0" height="11" fill="#000"/><rect x="720.0" y="470" width="3.0" height="9" fill="#F04040"/>
<rect x="727.0" y="465" width="1" height="23" fill="#000"/><rect x="725.0" y="465" width="5.0" height="15" fill="#000"/><rect x="726.0" y="466" width="3.0" height="13" fill="#40F040"/>
<rect x="732.0" y="452" width="1" height="12" fill="#000"/><rect x="730.0" y="454" width="5.0" height="10" fill="#000"/><rect x="731.0" y="455" width="3.0" height="8" fill="#40F040"/>
<rect x="738.0" y="452" width="1" height="9" fill="#000"/><rect x="736.0" y="454" width="5.0" height="6" fill="#000"/><rect x="737.0" y="455" width="3.0" height="4" fill="#F04040"/>
<rect x="744.0" y="458" width="1" height="16" fill="#000"/><rect x="742.0" y="459" width="5.0" height="15" fill="#000"/><rect x="743.0" y="460" width="3.0" height="13" fill="#F04040"/>
<rect x="749.0" y="471" width="1" height="29" fill="#000"/><rect x="747.0" y="473" width="5.0" height="18" fill="#000"/><rect x="748.0" y="474" width="3.0" height="16" fill="#F04040"/>
<rect x="755.0" y="480" width="1" height="16" fill="#000"/><rect x="753.0" y="487" width="5.0" height="4" fill="#000"/><rect x="754.0" y="488" width="3.0" height="2" fill="#40F040"/>
<rect x="761.0" y="489" width="1" height="13" fill="#000"/><rect x="759.0" y="490" width="5.0" height="2" fill="#000"/>
<rect x="766.0" y="485" width="1" height="22" fill="#000"/><rect x="764.0" y="490" width="5.0" height="16" fill="#000"/><rect x="765.0" y="491" width="3.0" height="14" fill="#F04040"/>
<rect x="772.0" y="476" width="1" height="31" fill="#000"/><rect x="770.0" y="478" width="5.0" height="28" fill="#000"/><rect x="771.0" y="479" width="3.0" height="26" fill="#40F040"/>
<rect x="777.0" y="460" width="1" height="19" fill="#000"/><rect x="775.0" y="463" width="5.0" height="16" fill="#000"/><rect x="776.0" y="464" width="3.0" height="14" fill="#40F040"/>
<rect x="783.0" y="452" width="1" height="16" fill="#000"/><rect x="781.0" y="461" width="5.0" height="7" fill="#000"/><rect x="782.0" y="462" width="3.0" height="5" fill="#40F040"/>
<rect x="789.0" y="454" width="1" height="18" fill="#000"/><rect x="787.0" y="465" width="5.0" height="1" fill="#000"/>
<rect x="794.0" y="457" width="1" height="12" fill="#000"/><rect x="792.0" y="461" width="5.0" height="3" fill="#000"/><rect x="793.0" y="462" width="3.0" height="1" fill="#40F040"/>
<rect x="800.0" y="459" width="1" height="23" fill="#000"/><rect x="798.0" y="460" width="5.0" height="20" fill="#000"/><rect x="799.0" y="461" width="3.0" height="18" fill="#F04040"/>
<rect x="806.0" y="472" width="1" height="14" fill="#000"/><rect x="804.0" y="472" width="5.0" height="7" fill="#000"/><rect x="805.0" y="473" width="3.0" height="5" fill="#40F040"/>
<rect x="811.0" y="469" width="1" height="33" fill="#000"/><rect x="809.0" y="471" width="5.0" height="20" fill="#000"/><rect x="810.0" y="472" width="3.0" height="18" fill="#F04040"/>
<rect x="817.0" y="495" width="1" height="34" fill="#000"/><rect x="815.0" y="495" width="5.0" height="19" fill="#000"/><rect x="816.0" y="496" width="3.0" height="17" fill="#F04040"/>
<rect x="823.0" y="500" width="1" height="15" fill="#000"/><rect x="821.0" y="504" width="5.0" height="11" fill="#000"/><rect x="822.0" y="505" width="3.0" height="9" fill="#40F040"/>
<rect x="828.0" y="490" width="1" height="22" fill="#000"/><rect x="826.0" y="501" width="5.0" height="11" fill="#000"/><rect x="827.0" y="502" width="3.0" height="9" fill="#F04040"/>
<rect x="834.0" y="498" width="1" height="76" fill="#000"/><rect x="832.0" y="515" width="5.0" height="58" fill="#000"/><rect x="833.0" y="516" width="3.0" height="56" fill="#F04040"/>
<rect x="839.0" y="528" width="1" height="73" fill="#000"/><rect x="837.0" y="536" width="5.0" height="45" fill="#000"/><rect x="838.0" y="537" width="3.0" height="43" fill="#40F040"/>
<rect x="845.0" y="526" width="1" height="34" fill="#000"/><rect x="843.0" y="530" width="5.0" height="27" fill="#000"/><rect x="844.0" y="531" width="3.0" height="25" fill="#F04040"/>
<rect x="851.0" y="534" width="1" height="48" fill="#000"/><rect x="849.0" y="538" width="5.0" height="24" fill="#000"/><rect x="850.0" y="539" width="3.0" height="22" fill="#40F040"/>
<rect x="856.0" y="515" width="1" height="31" fill="#000"/><rect x="854.0" y="516" width="5.0" height="22" fill="#000"/><rect x="855.0" y="517" width="3.0" height="20" fill="#40F040"/>
<rect x="862.0" y="508" width="1" height="19" fill="#000"/><rect x="860.0" y="517" width="5.0" height="1" fill="#000"/>
<rect x="868.0" y="493" width="1" height="16" fill="#000"/><rect x="866.0" y="493" width="5.0" height="14" fill="#000"/><rect x="867.0" y="494" width="3.0" height="12" fill="#40F040"/>
<rect x="873.0" y="490" width="1" height="22" fill="#000"/><rect x="871.0" y="495" width="5.0" height="17" fill="#000"/><rect x="872.0" y="496" width="3.0" height="15" fill="#F04040"/>
<rect x="879.0" y="496" width="1" height="12" fill="#000"/><rect x="877.0" y="499" width="5.0" height="9" fill="#000"/><rect x="878.0" y="500" width="3.0" height="7" fill="#40F040"/>
<rect x="885.0" y="489" width="1" height="19" fill="#000"/><rect x="883.0" y="491" width="5.0" height="10" fill="#000"/><rect x="884.0" y="492" width="3.0" height="8" fill="#40F040"/>
<rect x="890.0" y="485" width="1" height="19" fill="#000"/><rect x="888.0" y="490" width="5.0" height="12" fill="#000"/><rect x="889.0" y="491" width="3.0" height="10" fill="#F04040"/>
</g>
<g clip-path="url(#c2)" fill="none" stroke-width="8">
<line x1="69.7" y1="796.3" x2="891.3" y2="592.0" stroke="#00FF00" stroke-dasharray="8 8.127"/>
<line x1="-6.42" y1="636.15" x2="799.08" y2="436.04" stroke="#00FF00" stroke-dasharray="8 8.117"/>
</g>
<g fill="#0000FF">
<rect x="-3.9" y="-3" width="7.8" height="6" transform="translate(863.4,491.9) rotate(-19.1)"/>
<rect x="-3.9" y="-3" width="7.8" height="6" transform="translate(877.9,487.0) rotate(-19.1)"/>
<rect x="-3.9" y="-3" width="7.8" height="6" transform="translate(892.5,481.8) rotate(-19.1)"/>
<rect x="-3.9" y="-3" width="7.8" height="6" transform="translate(861.5,520.1) rotate(-19.1)"/>
<rect x="-3.9" y="-3" width="7.8" height="6" transform="translate(876.0,515.0) rotate(-19.1)"/>
<rect x="-3.9" y="-3" width="7.8" height="6" transform="translate(890.6,510.0) rotate(-19.1)"/>
</g>
<g font-family="Liberation Sans, sans-serif" font-size="11px" fill="#000" stroke="#000" stroke-width="0.22" stroke-linejoin="round">
<text x="900" y="27.3" textLength="32.9" lengthAdjust="spacingAndGlyphs">24.500</text>
<text x="900" y="51.3" textLength="32.9" lengthAdjust="spacingAndGlyphs">24.000</text>
<text x="900" y="75.3" textLength="32.9" lengthAdjust="spacingAndGlyphs">23.500</text>
<text x="900" y="100.3" textLength="32.9" lengthAdjust="spacingAndGlyphs">23.000</text>
<text x="900" y="126.3" textLength="32.9" lengthAdjust="spacingAndGlyphs">22.500</text>
<text x="900" y="152.3" textLength="32.9" lengthAdjust="spacingAndGlyphs">22.000</text>
<text x="900" y="178.3" textLength="32.9" lengthAdjust="spacingAndGlyphs">21.500</text>
<text x="900" y="205.3" textLength="32.9" lengthAdjust="spacingAndGlyphs">21.000</text>
<text x="900" y="233.3" textLength="32.9" lengthAdjust="spacingAndGlyphs">20.500</text>
<text x="900" y="262.3" textLength="32.9" lengthAdjust="spacingAndGlyphs">20.000</text>
<text x="900" y="291.3" textLength="32.9" lengthAdjust="spacingAndGlyphs">19.500</text>
<text x="900" y="321.3" textLength="32.9" lengthAdjust="spacingAndGlyphs">19.000</text>
<text x="900" y="352.3" textLength="32.9" lengthAdjust="spacingAndGlyphs">18.500</text>
<text x="897.1" y="807.4" textLength="32.9" lengthAdjust="spacingAndGlyphs">28.000</text>
<text x="897.1" y="780.6" textLength="32.9" lengthAdjust="spacingAndGlyphs">29.000</text>
<text x="897.1" y="755.7" textLength="32.9" lengthAdjust="spacingAndGlyphs">30.000</text>
<text x="897.1" y="732.3" textLength="32.9" lengthAdjust="spacingAndGlyphs">31.000</text>
<text x="897.1" y="708.9" textLength="32.9" lengthAdjust="spacingAndGlyphs">32.000</text>
<text x="897.1" y="686.2" textLength="32.9" lengthAdjust="spacingAndGlyphs">33.000</text>
<text x="897.1" y="664.2" textLength="32.9" lengthAdjust="spacingAndGlyphs">34.000</text>
<text x="897.1" y="642.8" textLength="32.9" lengthAdjust="spacingAndGlyphs">35.000</text>
<text x="897.1" y="622.0" textLength="32.9" lengthAdjust="spacingAndGlyphs">36.000</text>
<text x="897.1" y="601.8" textLength="32.9" lengthAdjust="spacingAndGlyphs">37.000</text>
<text x="897.1" y="582.1" textLength="32.9" lengthAdjust="spacingAndGlyphs">38.000</text>
<text x="897.1" y="562.9" textLength="32.9" lengthAdjust="spacingAndGlyphs">39.000</text>
<text x="897.1" y="544.2" textLength="32.9" lengthAdjust="spacingAndGlyphs">40.000</text>
<text x="897.1" y="526.0" textLength="32.9" lengthAdjust="spacingAndGlyphs">41.000</text>
<text x="897.1" y="508.2" textLength="32.9" lengthAdjust="spacingAndGlyphs">42.000</text>
<text x="897.1" y="490.9" textLength="32.9" lengthAdjust="spacingAndGlyphs">43.000</text>
<text x="897.1" y="473.9" textLength="32.9" lengthAdjust="spacingAndGlyphs">44.000</text>
<text x="897.1" y="457.3" textLength="32.9" lengthAdjust="spacingAndGlyphs">45.000</text>
<g text-anchor="middle">
<text x="50.7" y="397">25.</text>
<text x="121.7" y="397">01.</text>
<text x="164.7" y="397">04.</text>
<text x="206.7" y="397">09.</text>
<text x="249.7" y="397">14.</text>
<text x="292.7" y="397">17.</text>
<text x="334.7" y="397">24.</text>
<text x="405.7" y="397">02.</text>
<text x="448.7" y="397">07.</text>
<text x="491.7" y="397">12.</text>
<text x="533.7" y="397">15.</text>
<text x="576.7" y="397">20.</text>
<text x="619.7" y="397">23.</text>
<text x="661.7" y="397">28.</text>
<text x="704.7" y="397">02.</text>
<text x="747.7" y="397">05.</text>
<text x="789.7" y="397">10.</text>
<text x="832.7" y="397">13.</text>
<text x="875.7" y="397">18.</text>
<text x="121.7" y="410">April</text>
<text x="405.7" y="410">Mai</text>
<text x="704.7" y="410">Juni</text>
<text x="23.0" y="834">Juli</text>
<text x="74.0" y="834">Sep.</text>
<text x="125.0" y="834">Nov.</text>
<text x="170.0" y="834">Jan.</text>
<text x="221.0" y="834">März</text>
<text x="271.0" y="834">Mai</text>
<text x="316.0" y="834">Juli</text>
<text x="367.0" y="834">Sep.</text>
<text x="418.0" y="834">Nov.</text>
<text x="469.0" y="834">Jan.</text>
<text x="514.0" y="834">März</text>
<text x="564.0" y="834">Mai</text>
<text x="615.0" y="834">Juli</text>
<text x="660.0" y="834">Sep.</text>
<text x="711.0" y="834">Nov.</text>
<text x="762.0" y="834">Jan.</text>
<text x="807.0" y="834">März</text>
<text x="857.0" y="834">Mai</text>
<text x="170.0" y="847">2023</text>
<text x="469.0" y="847">2024</text>
<text x="762.0" y="847">2025</text>
</g>
</g>
</svg>
</body></html>
